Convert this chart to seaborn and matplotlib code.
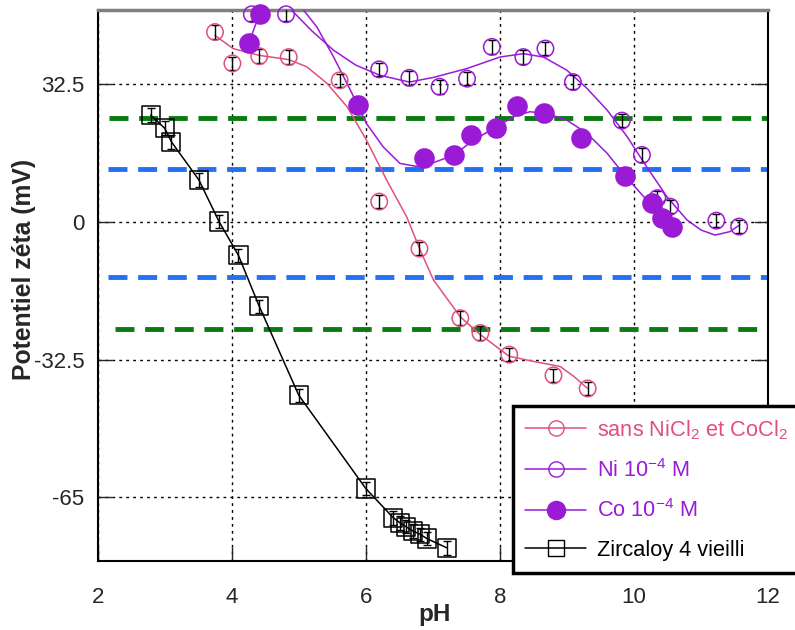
import numpy as np
import pandas as pd
import matplotlib
matplotlib.use("Agg")
import matplotlib.pyplot as plt
from matplotlib.lines import Line2D
import seaborn as sns

# measured points (pH, zeta potential in mV)
sans_ph = [3.75, 4.01, 4.41, 4.85, 5.61, 6.20, 6.80, 7.41, 7.71, 8.14, 8.80, 9.31]
sans_zeta = [44.8, 37.4, 39.1, 38.9, 33.4, 4.8, -6.3, -22.7, -26.2, -31.3, -36.2, -39.3]

ni_ph = [4.30, 4.81, 6.20, 6.65, 7.10, 7.51, 7.88, 8.35, 8.68, 9.09, 9.82, 10.12, 10.35, 10.54, 11.23, 11.57]
ni_zeta = [49.0, 49.0, 36.0, 34.0, 31.9, 33.8, 41.3, 38.9, 40.9, 33.0, 23.9, 15.8, 5.6, 3.6, 0.3, -1.1]

co_ph = [4.26, 4.42, 5.88, 6.87, 7.32, 7.57, 7.94, 8.26, 8.66, 9.21, 9.86, 10.27, 10.42, 10.57]
co_zeta = [42.2, 49.0, 27.6, 15.1, 15.9, 20.5, 22.1, 27.4, 25.7, 19.7, 10.8, 4.4, 0.9, -1.1]

zr_ph = [2.79, 3.00, 3.10, 3.51, 3.81, 4.10, 4.41, 5.00, 6.00, 6.41, 6.51, 6.60, 6.70, 6.81, 6.91, 7.21]
zr_zeta = [25.2, 22.1, 18.9, 9.9, 0.1, -7.9, -19.9, -40.9, -62.9, -69.8, -71.0, -71.9, -72.9, -73.7, -74.7, -76.9]

# fitted curves as drawn in the figure
sans_fit_ph = [3.75, 4.02, 4.41, 4.85, 5.12, 5.42, 5.72, 6.01, 6.31, 6.61, 6.81, 7.01, 7.41, 7.71, 8.14, 8.50, 8.90, 9.10, 9.31]
sans_fit_zeta = [44.0, 40.9, 39.3, 38.3, 36.6, 32.7, 27.2, 19.3, 9.9, 1.2, -6.6, -13.7, -22.4, -26.6, -31.7, -32.9, -34.1, -36.4, -39.3]

ni_fit_ph = [4.89, 5.20, 5.52, 5.85, 6.21, 6.65, 7.01, 7.51, 8.00, 8.35, 8.65, 9.00, 9.30, 9.60, 9.90, 10.19, 10.49, 10.79, 11.00, 11.21, 11.43, 11.58]
ni_fit_zeta = [50.0, 45.0, 40.5, 37.0, 34.6, 33.0, 34.1, 36.2, 38.9, 39.7, 38.9, 35.8, 31.5, 26.4, 20.1, 13.0, 6.0, 0.5, -1.9, -3.1, -2.3, -0.7]

co_fit_top_ph = [4.26, 4.33, 4.40, 4.44]
co_fit_top_zeta = [42.2, 45.5, 48.4, 50.0]
co_fit_ph = [5.07, 5.27, 5.52, 5.77, 6.01, 6.26, 6.51, 6.76, 6.87, 7.01, 7.32, 7.57, 7.94, 8.25, 8.45, 8.70, 9.00, 9.30, 9.60, 9.90, 10.19, 10.44, 10.57]
co_fit_zeta = [50.0, 46.0, 38.9, 31.1, 23.2, 17.7, 13.8, 13.1, 13.3, 14.0, 15.8, 18.9, 22.4, 25.2, 26.0, 25.6, 24.0, 20.9, 16.2, 10.3, 5.2, 0.9, -1.1]

green_levels = [24.5, -25.2]
blue_levels = [12.4, -13.1]

pink = "#E0507A"
purple = "#9A1AD6"
green = "#0A7A12"
blue = "#2370F5"

sns.set_style("white")
plt.rcParams["font.family"] = ["Liberation Sans", "DejaVu Sans"]
plt.rcParams["mathtext.fontset"] = "custom"
plt.rcParams["mathtext.rm"] = "Liberation Sans"
plt.rcParams["mathtext.it"] = "Liberation Sans"

fig = plt.figure(figsize=(7.95, 6.3), dpi=100)
ax = fig.add_axes([0.1229, 0.1095, 0.8431, 0.8746])

# reference levels
ax.hlines(green_levels[0], 2.17, 12, color=green, lw=3.5, linestyle=(0, (3.9, 2.2)), zorder=2)
ax.hlines(green_levels[1], 2.26, 11.88, color=green, lw=3.5, linestyle=(0, (3.9, 2.2)), zorder=2)
for lv in blue_levels:
    ax.hlines(lv, 2.15, 12, color=blue, lw=3.5, linestyle=(0, (3.9, 2.2)), zorder=2)

# fitted curves
fits = [
    (sans_fit_ph, sans_fit_zeta, pink),
    (ni_fit_ph, ni_fit_zeta, purple),
    (co_fit_top_ph, co_fit_top_zeta, purple),
    (co_fit_ph, co_fit_zeta, purple),
    (zr_ph, zr_zeta, "black"),
]
for xs, ys, c in fits:
    sns.lineplot(x=xs, y=ys, sort=False, color=c, lw=1.1, ax=ax, zorder=3)

# error bars
err = 1.6
for xs, ys in [(sans_ph, sans_zeta), (ni_ph, ni_zeta), (zr_ph, zr_zeta)]:
    ax.errorbar(xs, ys, yerr=err, fmt="none", ecolor="black", elinewidth=1.0,
                capsize=3, capthick=1.0, zorder=4)

# markers
sns.scatterplot(x=sans_ph, y=sans_zeta, marker="o", s=140, facecolor="none",
                edgecolor=pink, linewidth=1.1, ax=ax, zorder=5, clip_on=False)
sns.scatterplot(x=ni_ph, y=ni_zeta, marker="o", s=140, facecolor="none",
                edgecolor=purple, linewidth=1.1, ax=ax, zorder=5, clip_on=False)
sns.scatterplot(x=co_ph, y=co_zeta, marker="o", s=220, color=purple,
                edgecolor=purple, linewidth=0, ax=ax, zorder=6, clip_on=False)
sns.scatterplot(x=zr_ph, y=zr_zeta, marker="s", s=170, facecolor="none",
                edgecolor="black", linewidth=1.1, ax=ax, zorder=5, clip_on=False)

ax.set_xlim(2, 12)
ax.set_ylim(-80, 50)
ax.set_xticks([2, 4, 6, 8, 10, 12])
ax.set_yticks([-65, -32.5, 0, 32.5])
ax.set_yticklabels(["-65", "-32.5", "0", "32.5"])
ax.grid(True, color="black", linestyle=(0, (2, 3)), lw=1.0)
ax.tick_params(axis="both", direction="in", length=10, width=1, labelsize=16,
               left=True, bottom=True, right=True, top=False)
ax.tick_params(axis="x", pad=19)
ax.tick_params(axis="y", pad=9.5)

for side in ["left", "bottom", "right"]:
    ax.spines[side].set_color("black")
    ax.spines[side].set_linewidth(1.5)
ax.spines["top"].set_color("#808080")
ax.spines["top"].set_linewidth(2.5)

ax.set_xlabel("pH", fontsize=17.5, fontweight="bold")
ax.set_ylabel("Potentiel zéta (mV)", fontsize=17.8, fontweight="bold")
ax.xaxis.set_label_coords(0.503, -0.076)
ax.yaxis.set_label_coords(-0.092, 0.53)

handles = [
    Line2D([], [], color=pink, lw=1.1, marker="o", ms=11, mfc="none", mec=pink),
    Line2D([], [], color=purple, lw=1.1, marker="o", ms=11, mfc="none", mec=purple),
    Line2D([], [], color=purple, lw=1.1, marker="o", ms=13, mfc=purple, mec=purple),
    Line2D([], [], color="black", lw=1.1, marker="s", ms=12, mfc="none", mec="black"),
]
labels = ["sans NiCl$_2$ et CoCl$_2$", "Ni 10$^{-4}$ M", "Co 10$^{-4}$ M", "Zircaloy 4 vieilli"]
leg = fig.legend(handles, labels, loc="upper left", bbox_to_anchor=(513 / 795, 1 - 406 / 630),
                 fontsize=15.7, frameon=True, fancybox=False, framealpha=1, edgecolor="black",
                 labelcolor="linecolor", handlelength=2.8, handletextpad=0.5,
                 borderpad=0.55, labelspacing=0.8, borderaxespad=0)
leg.get_frame().set_linewidth(2.5)

fig.savefig("out.png", dpi=100)
